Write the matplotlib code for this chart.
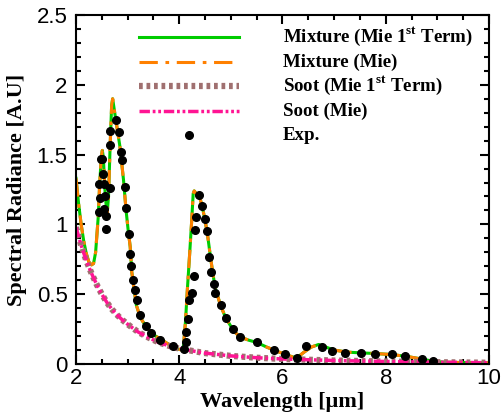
import matplotlib
matplotlib.use("Agg")
import matplotlib.pyplot as plt
from matplotlib.lines import Line2D
from matplotlib.ticker import MultipleLocator

plt.rcParams['font.family'] = ['Liberation Sans', 'DejaVu Sans']
plt.rcParams['mathtext.fontset'] = 'custom'
plt.rcParams['mathtext.rm'] = 'Liberation Serif:bold'
plt.rcParams['mathtext.bf'] = 'Liberation Serif:bold'

# 混合物曲线 (Mie 与 Mie 一阶项几乎重合)
mix_x = [2.00, 2.05, 2.10, 2.15, 2.20, 2.25, 2.30, 2.34, 2.38, 2.43, 2.46, 2.49,
         2.51, 2.53, 2.56, 2.60, 2.63, 2.66, 2.69, 2.71, 2.75, 2.80, 2.85, 2.92,
         2.97, 3.01, 3.05, 3.08, 3.12, 3.17, 3.25, 3.37, 3.50, 3.63, 3.80, 3.95,
         4.05, 4.08, 4.12, 4.16, 4.20, 4.24, 4.27, 4.29, 4.33, 4.40, 4.45, 4.50,
         4.55, 4.60, 4.65, 4.70, 4.80, 4.90, 5.00, 5.10, 5.20, 5.35, 5.50, 5.70,
         5.90, 6.05, 6.20, 6.30, 6.40, 6.55, 6.70, 6.85, 7.00, 7.25, 7.50, 7.80,
         8.10, 8.40, 8.70, 8.95, 9.20, 10.0]
mix_1st = [1.33, 1.15, 1.00, 0.88, 0.79, 0.73, 0.71, 0.72, 0.80, 1.05, 1.30, 1.48,
           1.53, 1.48, 1.25, 1.06, 1.20, 1.55, 1.85, 1.90, 1.80, 1.68, 1.56, 1.32,
           1.10, 0.96, 0.84, 0.66, 0.55, 0.42, 0.33, 0.26, 0.21, 0.18, 0.14, 0.11,
           0.10, 0.12, 0.30, 0.55, 0.78, 1.02, 1.22, 1.24, 1.22, 1.19, 1.12, 1.03,
           0.92, 0.78, 0.65, 0.54, 0.42, 0.33, 0.27, 0.22, 0.19, 0.17, 0.155, 0.12,
           0.09, 0.07, 0.05, 0.05, 0.08, 0.12, 0.14, 0.12, 0.10, 0.085, 0.08, 0.075,
           0.068, 0.055, 0.035, 0.018, 0.012, 0.008]
mix_mie = mix_1st

# 碳烟曲线
soot_x = [2.0, 2.1, 2.2, 2.3, 2.4, 2.5, 2.6, 2.7, 2.8, 2.9, 3.0, 3.2, 3.4, 3.6,
          3.8, 4.0, 4.5, 5.0, 5.5, 6.0, 7.0, 8.0, 9.0, 10.0]
soot_1st = [0.98, 0.85, 0.74, 0.65, 0.57, 0.50, 0.44, 0.39, 0.35, 0.315, 0.285,
            0.23, 0.19, 0.155, 0.13, 0.11, 0.078, 0.058, 0.045, 0.036, 0.025,
            0.018, 0.013, 0.009]
soot_mie = soot_1st

# 实验点
exp_x = [2.45, 2.45, 2.46, 2.48, 2.51, 2.52, 2.54, 2.55, 2.56, 2.58, 2.59, 2.65,
         2.65, 2.66, 2.77, 2.83, 2.87, 2.89, 2.94, 2.97, 3.03, 3.05, 3.07, 3.10,
         3.15, 3.19, 3.24, 3.36, 3.46, 3.63, 3.88, 4.10, 4.13, 4.13, 4.16, 4.18,
         4.24, 4.28, 4.30, 4.32, 4.39, 4.45, 4.49, 4.54, 4.58, 4.62, 4.67, 4.70,
         4.80, 4.91, 5.04, 5.17, 5.51, 5.84, 6.04, 6.29, 6.46, 6.76, 6.96, 7.22,
         7.52, 7.80, 8.12, 8.37, 8.71, 8.92]
exp_y = [1.09, 1.29, 1.19, 1.47, 1.47, 1.36, 1.29, 1.11, 1.20, 1.06, 0.97, 1.26,
         1.57, 1.67, 1.75, 1.66, 1.52, 1.46, 1.27, 1.12, 0.93, 0.79, 0.70, 0.60,
         0.53, 0.46, 0.35, 0.27, 0.22, 0.17, 0.13, 0.11, 0.16, 0.23, 0.32, 0.46,
         0.51, 0.63, 0.96, 1.05, 1.21, 1.13, 1.04, 0.95, 0.77, 0.66, 0.57, 0.51,
         0.42, 0.33, 0.25, 0.19, 0.16, 0.10, 0.07, 0.045, 0.13, 0.12, 0.095, 0.08,
         0.077, 0.072, 0.072, 0.055, 0.038, 0.02]

labels = ['Mixture (Mie 1$^{\\mathrm{st}}$ Term)', 'Mixture (Mie)',
          'Soot (Mie 1$^{\\mathrm{st}}$ Term)', 'Soot (Mie)', 'Exp.']

styles = [dict(color='#00cc00', lw=2.2),
          dict(color='#ff8000', lw=2.2, ls=(0, (6, 2.5, 1.2, 2.5))),
          dict(color='#a07070', lw=4.5, ls=(0, (0.6, 0.6))),
          dict(color='#ff1493', lw=2.5, ls=(0, (3, 0.8, 0.8, 0.8, 0.8, 0.8))),
          dict(color='black', marker='o', ms=5.5, ls='none')]

W, H = 502, 413
fig = plt.figure(figsize=(W/100, H/100), dpi=100)
ax = fig.add_axes([76/W, 49/H, 413/W, 349/H])

ax.plot(mix_x, mix_1st, **styles[0])
ax.plot(mix_x, mix_mie, **styles[1])
ax.plot(soot_x, soot_1st, **styles[2])
ax.plot(soot_x, soot_mie, **styles[3])
ax.plot(exp_x, exp_y, **styles[4])

ax.set_xlim(2, 10)
ax.set_ylim(0, 2.5)
ax.xaxis.set_minor_locator(MultipleLocator(0.5))
ax.yaxis.set_minor_locator(MultipleLocator(0.1))
ax.set_xticks([2, 4, 6, 8, 10], ['2', '4', '6', '8', '10'])
ax.set_yticks([0, 0.5, 1, 1.5, 2, 2.5], ['0', '0.5', '1', '1.5', '2', '2.5'])
ax.tick_params(which='both', direction='in', top=True, right=True, labelsize=16, width=1.5)
ax.tick_params(which='major', length=6.5)
ax.tick_params(which='minor', length=3.5)
ax.tick_params(axis='x', which='major', pad=3)
ax.tick_params(axis='y', which='major', pad=6)
for s in ax.spines.values():
    s.set_linewidth(1.5)

ax.set_xlabel('Wavelength [μm]', family='Liberation Serif', weight='bold', fontsize=16)
ax.set_ylabel('Spectral Radiance [A.U]', family='Liberation Serif', weight='bold', fontsize=16)
ax.xaxis.set_label_coords(0.5, -0.08)
ax.yaxis.set_label_coords(-0.118, 0.5)

# 图例 (手动绘制, 行距均匀)
rows_y = [37, 61.5, 86, 110.5, 135]
for lab, st, y in zip(labels, styles, rows_y):
    yf = 1 - y/H
    if st.get('marker'):
        fig.add_artist(Line2D([189/W], [yf], **st))
    else:
        fig.add_artist(Line2D([139/W, 239/W], [yf, yf], **st))
    fig.text(283/W, 1 - (y + 5)/H, lab, family='Liberation Serif', weight='bold',
             fontsize=13.6, va='baseline', ha='left')

plt.savefig('out.png', dpi=100)
